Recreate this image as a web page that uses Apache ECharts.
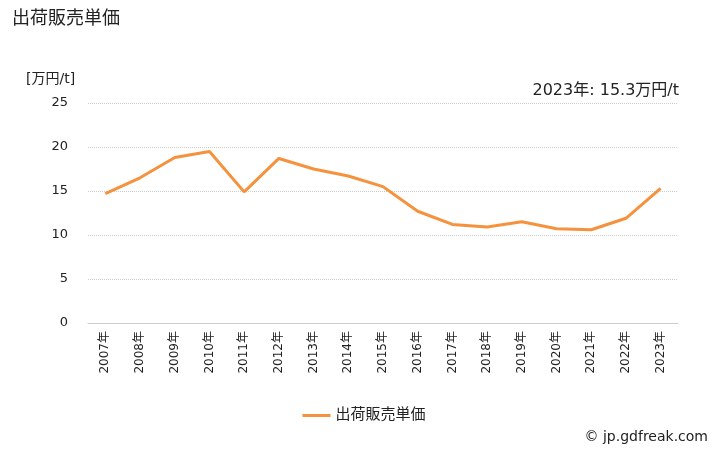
<!DOCTYPE html>
<html><head><meta charset="utf-8">
<script src="https://cdn.jsdelivr.net/npm/echarts@6/dist/echarts.min.js"></script>
<style>html,body{margin:0;padding:0;background:#fff}#c{width:728px;height:450px}</style>
</head><body><div id="c"></div>
<script>
const years = ["2007年","2008年","2009年","2010年","2011年","2012年","2013年","2014年","2015年","2016年","2017年","2018年","2019年","2020年","2021年","2022年","2023年"];
const prices = [14.7,16.5,18.8,19.5,14.9,18.7,17.5,16.7,15.5,12.7,11.2,10.9,11.5,10.7,10.6,11.9,15.3];
const seriesName = "出荷販売単価";
const font = '"DejaVu Sans","Noto Sans CJK JP",sans-serif';
const chart = echarts.init(document.getElementById('c'), null, {renderer:'canvas'});
chart.setOption({
  animation:false,
  textStyle:{fontFamily:font},
  title:[
    {text:seriesName,left:7,top:5,textStyle:{fontSize:18,fontWeight:'normal',color:'#222',fontFamily:font}},
    {text:'[万円/t]',left:21,top:67,textStyle:{fontSize:14,fontWeight:'normal',color:'#222',fontFamily:font}},
    {text:'2023年: 15.3万円/t',right:44,top:78,textStyle:{fontSize:16,fontWeight:'normal',color:'#222',fontFamily:font}},
    {text:'© jp.gdfreak.com',right:15,top:425,textStyle:{fontSize:14,fontWeight:'normal',color:'#222',fontFamily:font}}
  ],
  legend:{bottom:22,left:'center',itemWidth:28,itemHeight:3,icon:'rect',textStyle:{fontSize:15,color:'#222',fontFamily:font},data:[seriesName]},
  grid:{left:88,right:50,top:103,bottom:127},
  xAxis:{type:'category',data:years,boundaryGap:true,
    axisLine:{lineStyle:{color:'#ccc'}},axisTick:{lineStyle:{color:'#ccc'},length:5},
    axisLabel:{rotate:90,fontSize:12,color:'#222',margin:8,interval:0,fontFamily:font}},
  yAxis:{type:'value',min:0,max:25,interval:5,
    axisLine:{show:false},axisTick:{show:false},
    splitLine:{lineStyle:{color:'#ccc',type:'dotted'}},
    axisLabel:{fontSize:13,color:'#222',margin:20,fontFamily:font}},
  series:[{name:seriesName,type:'line',data:prices,symbol:'none',
    lineStyle:{color:'#f5923e',width:3},itemStyle:{color:'#f5923e'}}]
});
</script></body></html>
